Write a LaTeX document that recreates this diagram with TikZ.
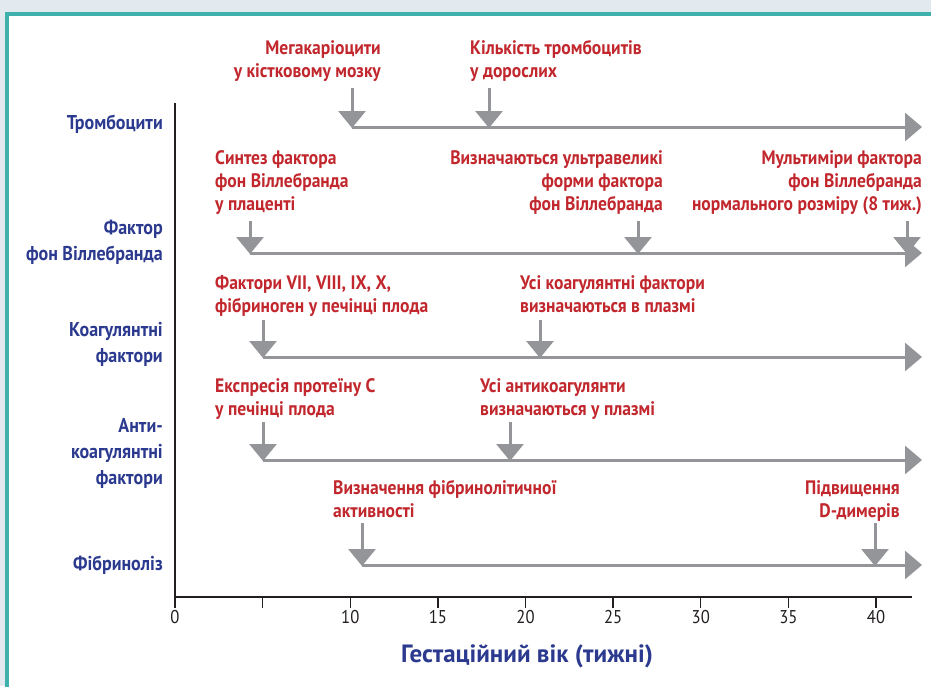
\documentclass[tikz,border=0pt]{standalone}
\usepackage{fontspec}
\setmainfont{PT Sans}[FakeStretch=0.9]
\newfontfamily\titlefont{PT Sans}
\usetikzlibrary{arrows.meta}
\definecolor{evred}{HTML}{C1272D}
\definecolor{evblue}{HTML}{2B3A8F}
\definecolor{evgrey}{HTML}{939598}
\definecolor{evteal}{HTML}{3FB1AD}
\definecolor{evbg}{HTML}{E2E9EF}
\definecolor{evdark}{HTML}{231F20}
\tikzset{
  evt/.style={font=\bfseries\fontsize{19.5}{23}\selectfont, text=evred, inner sep=0pt},
  evtl/.style={evt, anchor=north west, align=left},
  evtr/.style={evt, anchor=north east, align=right},
  rowlab/.style={font=\bfseries\fontsize{20}{26}\selectfont, text=evblue, inner sep=0pt, anchor=north east, align=right},
  timeline/.style={draw=evgrey, line width=3pt, -{Triangle[length=17pt,width=28pt]}},
  marker/.style={draw=evgrey, line width=3pt, -{Triangle[length=17pt,width=27pt]}, shorten >=-1pt},
  axisline/.style={draw=evdark, line width=1.3pt},
  ticklab/.style={font=\fontsize{18.5}{20}\selectfont, text=evdark, inner sep=0pt, anchor=north},
}
\begin{document}
\begin{tikzpicture}[x=1pt,y=-1pt]
\useasboundingbox (0,0) rectangle (931,686);
\fill[evbg] (0,0) rectangle (931,686);
\fill[white] (7,14) rectangle (945,700);
\draw[evteal, line width=3.5pt] (7,700) -- (7,14) -- (945,14);

% axes
\coordinate (axtop) at (175,103);
\coordinate (ax0) at (175,597);
\coordinate (axend) at (912,597);
\draw[axisline] (axtop) -- (ax0) -- (axend);
\foreach \w in {0,5,...,40} {
  \coordinate (tk\w) at ({175+17.525*\w},597);
  \draw[axisline] (tk\w) -- ++(0,11);
}
\foreach \w in {0,10,15,20,25,30,35,40} {
  \node[ticklab] (tl\w) at ({175+17.525*\w},610) {\w};
}
\node[font=\titlefont\bfseries\fontsize{25}{28}\selectfont, text=evblue, inner sep=0pt] (xtitle) at (527,656) {Гестаційний вік (тижні)};

% row labels
\node[rowlab] (r1) at (163,115) {Тромбоцити};
\node[rowlab] (r2) at (163,220) {Фактор\\фон Віллебранда};
\node[rowlab] (r3) at (163,322) {Коагулянтні\\фактори};
\node[rowlab] (r4) at (163,418) {Анти-\\коагулянтні\\фактори};
\node[rowlab] (r5) at (163,556) {Фібриноліз};

% row 1
\coordinate (s1) at (352,127); \coordinate (e1) at (922,127);
\draw[timeline] (s1) -- (e1);
\coordinate (m1a) at (352,127); \coordinate (m1b) at (489,127);
\draw[marker] (352,88) coordinate (t1a) -- (m1a);
\draw[marker] (489,88) coordinate (t1b) -- (m1b);
\node[evtr] (l1a) at (381,40) {Мегакаріоцити\\у кістковому мозку};
\node[evtl] (l1b) at (470,40) {Кількість тромбоцитів\\у дорослих};

% row 2
\coordinate (s2) at (250,253); \coordinate (e2) at (922,253);
\draw[timeline] (s2) -- (e2);
\coordinate (m2a) at (250,253); \coordinate (m2b) at (638,253); \coordinate (m2c) at (907,253);
\draw[marker] (250,221) coordinate (t2a) -- (m2a);
\draw[marker] (638,221) coordinate (t2b) -- (m2b);
\draw[marker] (907,221) coordinate (t2c) -- (m2c);
\node[evtl] (l2a) at (215,150) {Синтез фактора\\фон Віллебранда\\у плаценті};
\node[evtr] (l2b) at (663,150) {Визначаються ультравеликі\\форми фактора\\фон Віллебранда};
\node[evtr] (l2c) at (922,150) {Мультиміри фактора\\фон Віллебранда\\нормального розміру (8 тиж.)};

% row 3
\coordinate (s3) at (263,357); \coordinate (e3) at (922,357);
\draw[timeline] (s3) -- (e3);
\coordinate (m3a) at (263,357); \coordinate (m3b) at (540,357);
\draw[marker] (263,320) coordinate (t3a) -- (m3a);
\draw[marker] (540,320) coordinate (t3b) -- (m3b);
\node[evtl] (l3a) at (215,275) {Фактори VII, VIII, IX, X,\\фібриноген у печінці плода};
\node[evtl] (l3b) at (520,275) {Усі коагулянтні фактори\\визначаються в плазмі};

% row 4
\coordinate (s4) at (263,460); \coordinate (e4) at (922,460);
\draw[timeline] (s4) -- (e4);
\coordinate (m4a) at (263,460); \coordinate (m4b) at (510,460);
\draw[marker] (263,422) coordinate (t4a) -- (m4a);
\draw[marker] (510,422) coordinate (t4b) -- (m4b);
\node[evtl] (l4a) at (215,378) {Експресія протеїну С\\у печінці плода};
\node[evtl] (l4b) at (480,378) {Усі антикоагулянти\\визначаються у плазмі};

% row 5
\coordinate (s5) at (362,565); \coordinate (e5) at (922,565);
\draw[timeline] (s5) -- (e5);
\coordinate (m5a) at (362,565); \coordinate (m5b) at (875,565);
\draw[marker] (362,523) coordinate (t5a) -- (m5a);
\draw[marker] (875,523) coordinate (t5b) -- (m5b);
\node[evtl] (l5a) at (333,480) {Визначення фібринолітичної\\активності};
\node[evtr] (l5b) at (900,480) {Підвищення\\D-димерів};
\end{tikzpicture}
\end{document}
